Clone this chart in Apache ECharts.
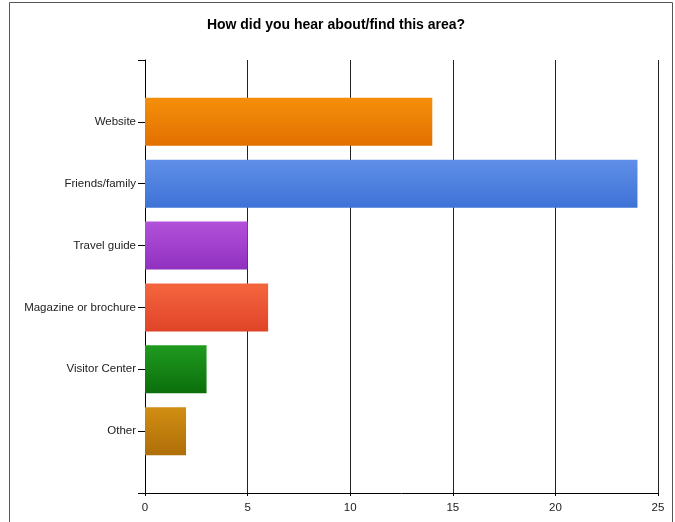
<!DOCTYPE html>
<html><head><meta charset="utf-8">
<script src="https://cdn.jsdelivr.net/npm/echarts@6/dist/echarts.min.js"></script>
<style>html,body{margin:0;padding:0;background:#fff}#c{width:675px;height:522px}</style>
</head><body><div id="c"></div>
<script>
const title = 'How did you hear about/find this area?';
const categories = ['Website', 'Friends/family', 'Travel guide', 'Magazine or brochure', 'Visitor Center', 'Other'];
const values = [14, 24, 5, 6, 3, 2];
const xTicks = [0, 5, 10, 15, 20, 25];
const colors = [
  ['#F58F0A', '#E27000'],
  ['#5F8FE8', '#3E72D6'],
  ['#B252DA', '#9030C0'],
  ['#F4653F', '#E04428'],
  ['#1F9B1F', '#0B6E0B'],
  ['#D18E12', '#AF6E08']
];
// pad one empty slot above and below the categories
const yCats = [''].concat(categories, ['']);
const barData = [null].concat(values.map((v, i) => ({
  value: v,
  itemStyle: { color: new echarts.graphic.LinearGradient(0, 0, 0, 1, [
    { offset: 0, color: colors[i][0] }, { offset: 1, color: colors[i][1] }
  ]) }
})), [null]);

const chart = echarts.init(document.getElementById('c'), null, { renderer: 'canvas' });
chart.setOption({
  animation: false,
  backgroundColor: '#fff',
  title: {
    text: title, left: 331, top: 13, textAlign: 'center',
    textStyle: { fontFamily: 'Liberation Sans, Arial, sans-serif', fontSize: 14, fontWeight: 'bold', color: '#000' }
  },
  graphic: [{
    type: 'rect', shape: { x: 9.5, y: 2.5, width: 663, height: 530 },
    style: { fill: 'none', stroke: '#555', lineWidth: 1 }, silent: true
  }],
  grid: { left: 145, right: 17, top: 60, bottom: 29 },
  xAxis: {
    type: 'value', min: xTicks[0], max: xTicks[xTicks.length - 1], interval: 5,
    axisLine: { show: true, lineStyle: { color: '#000', width: 1 } },
    axisTick: { show: true, length: 3, lineStyle: { color: '#000' } },
    axisLabel: { fontFamily: 'Liberation Sans, Arial, sans-serif', fontSize: 11.5, color: '#222', margin: 9 },
    splitLine: { show: true, lineStyle: { color: '#222', width: 1 } }
  },
  yAxis: {
    type: 'category', data: yCats, inverse: true, boundaryGap: false,
    axisLine: { show: true, lineStyle: { color: '#000', width: 1 } },
    axisTick: { show: true, length: 7, inside: false, alignWithLabel: true, lineStyle: { color: '#000' } },
    axisLabel: { fontFamily: 'Liberation Sans, Arial, sans-serif', fontSize: 11.5, color: '#222', margin: 9, interval: 0 },
    splitLine: { show: false }
  },
  series: [{
    type: 'bar', data: barData, barWidth: 48, cursor: 'default'
  }]
});
</script></body></html>
